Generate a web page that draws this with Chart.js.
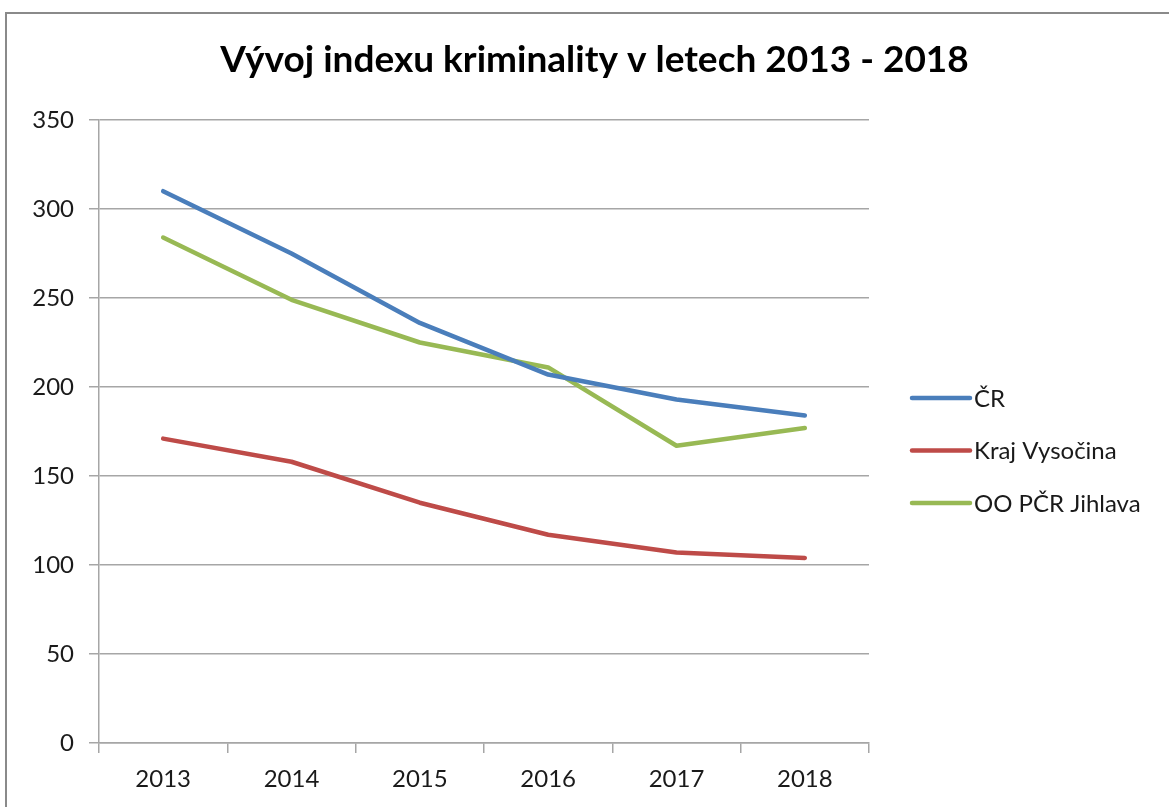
<!DOCTYPE html>
<html>
<head>
<meta charset="utf-8">
<script src="https://cdn.jsdelivr.net/npm/chart.js@4"></script>
<style>
  html, body { margin: 0; padding: 0; background: #ffffff; }
  #wrap { position: relative; width: 1169px; height: 807px; overflow: hidden; }
  #frame { position: absolute; left: 5px; top: 12px; width: 1300px; height: 900px;
           border-top: 2px solid #8a8a8a; border-left: 2px solid #8a8a8a; }
  canvas { position: absolute; left: 0; top: 0; }
</style>
</head>
<body>
<div id="wrap">
  <div id="frame"></div>
  <canvas id="c" width="1169" height="807"></canvas>
</div>
<script>
const categories = ['2013', '2014', '2015', '2016', '2017', '2018'];
const seriesNames = ['ČR', 'Kraj Vysočina', 'OO PČR Jihlava'];
const valuesCR = [310, 275, 236, 207, 193, 184];
const valuesKraj = [171, 158, 135, 117, 107, 104];
const valuesJihlava = [284, 249, 225, 211, 167, 177];
const seriesColors = ['#4a7ebb', '#be4b48', '#98b954'];
const yTicks = [0, 50, 100, 150, 200, 250, 300, 350];
const titleText = 'Vývoj indexu kriminality v letech 2013 - 2018';

const FONT = 'Lato, "Open Sans", sans-serif';
const GRID = '#a6a6a6';
const TEXT = '#1a1a1a';

const legendPlugin = {
  id: 'sideLegend',
  afterDraw(chart) {
    const ctx = chart.ctx;
    const area = chart.chartArea;
    const x0 = area.right + 43;
    const lineLen = 58;
    const startY = area.top + 278;
    const step = 52.5;
    ctx.save();
    ctx.font = '24px ' + FONT;
    ctx.textBaseline = 'middle';
    ctx.textAlign = 'left';
    chart.data.datasets.forEach((ds, i) => {
      const y = startY + i * step;
      ctx.strokeStyle = ds.borderColor;
      ctx.lineWidth = 4.5;
      ctx.lineCap = 'round';
      ctx.beginPath();
      ctx.moveTo(x0, y);
      ctx.lineTo(x0 + lineLen, y);
      ctx.stroke();
      ctx.fillStyle = TEXT;
      ctx.fillText(ds.label, x0 + lineLen + 4, y + 1);
    });
    ctx.restore();
  }
};

const datasets = [valuesCR, valuesKraj, valuesJihlava].map((vals, i) => ({
  label: seriesNames[i],
  data: vals,
  yAxisID: 'y',
  borderColor: seriesColors[i],
  backgroundColor: seriesColors[i],
  borderWidth: 4.5,
  pointRadius: 0,
  pointHoverRadius: 0,
  tension: 0,
  borderJoinStyle: 'round',
  borderCapStyle: 'round',
  fill: false
}));

new Chart(document.getElementById('c'), {
  type: 'line',
  data: { labels: categories, datasets: datasets },
  options: {
    responsive: false,
    animation: false,
    devicePixelRatio: 1,
    layout: { padding: { left: 20, right: 0, top: 0, bottom: 0 } },
    plugins: {
      legend: { display: false },
      tooltip: { enabled: false },
      title: {
        display: true,
        text: titleText,
        color: '#000000',
        font: { family: FONT, size: 37, weight: 'bold', lineHeight: 1.2 },
        padding: { top: 38, bottom: 37.6 }
      }
    },
    scales: {
      x: {
        offset: true,
        afterFit(scale) { scale.height = 64; },
        grid: {
          offset: true,
          drawOnChartArea: false,
          drawTicks: true,
          tickLength: 10,
          color: GRID,
          lineWidth: 1.5
        },
        border: { display: true, color: GRID, width: 1.5 },
        ticks: {
          color: TEXT,
          font: { family: FONT, size: 24 },
          padding: 12,
          maxRotation: 0
        }
      },
      y: {
        min: 0,
        max: 350,
        position: 'left',
        afterFit(scale) { scale.width = 79; },
        afterBuildTicks(scale) { scale.ticks = yTicks.map(v => ({ value: v })); },
        grid: {
          color: GRID,
          lineWidth: 1.5,
          drawTicks: true,
          tickLength: 10
        },
        border: { display: true, color: GRID, width: 1.5 },
        ticks: {
          color: TEXT,
          font: { family: FONT, size: 24 },
          padding: 15
        }
      },
      legendSpace: {
        type: 'linear',
        position: 'right',
        min: 0,
        max: 350,
        afterFit(scale) { scale.width = 300; },
        grid: { display: false, drawOnChartArea: false, drawTicks: false },
        border: { display: false },
        ticks: { display: false }
      }
    }
  },
  plugins: [legendPlugin]
});
</script>
</body>
</html>
